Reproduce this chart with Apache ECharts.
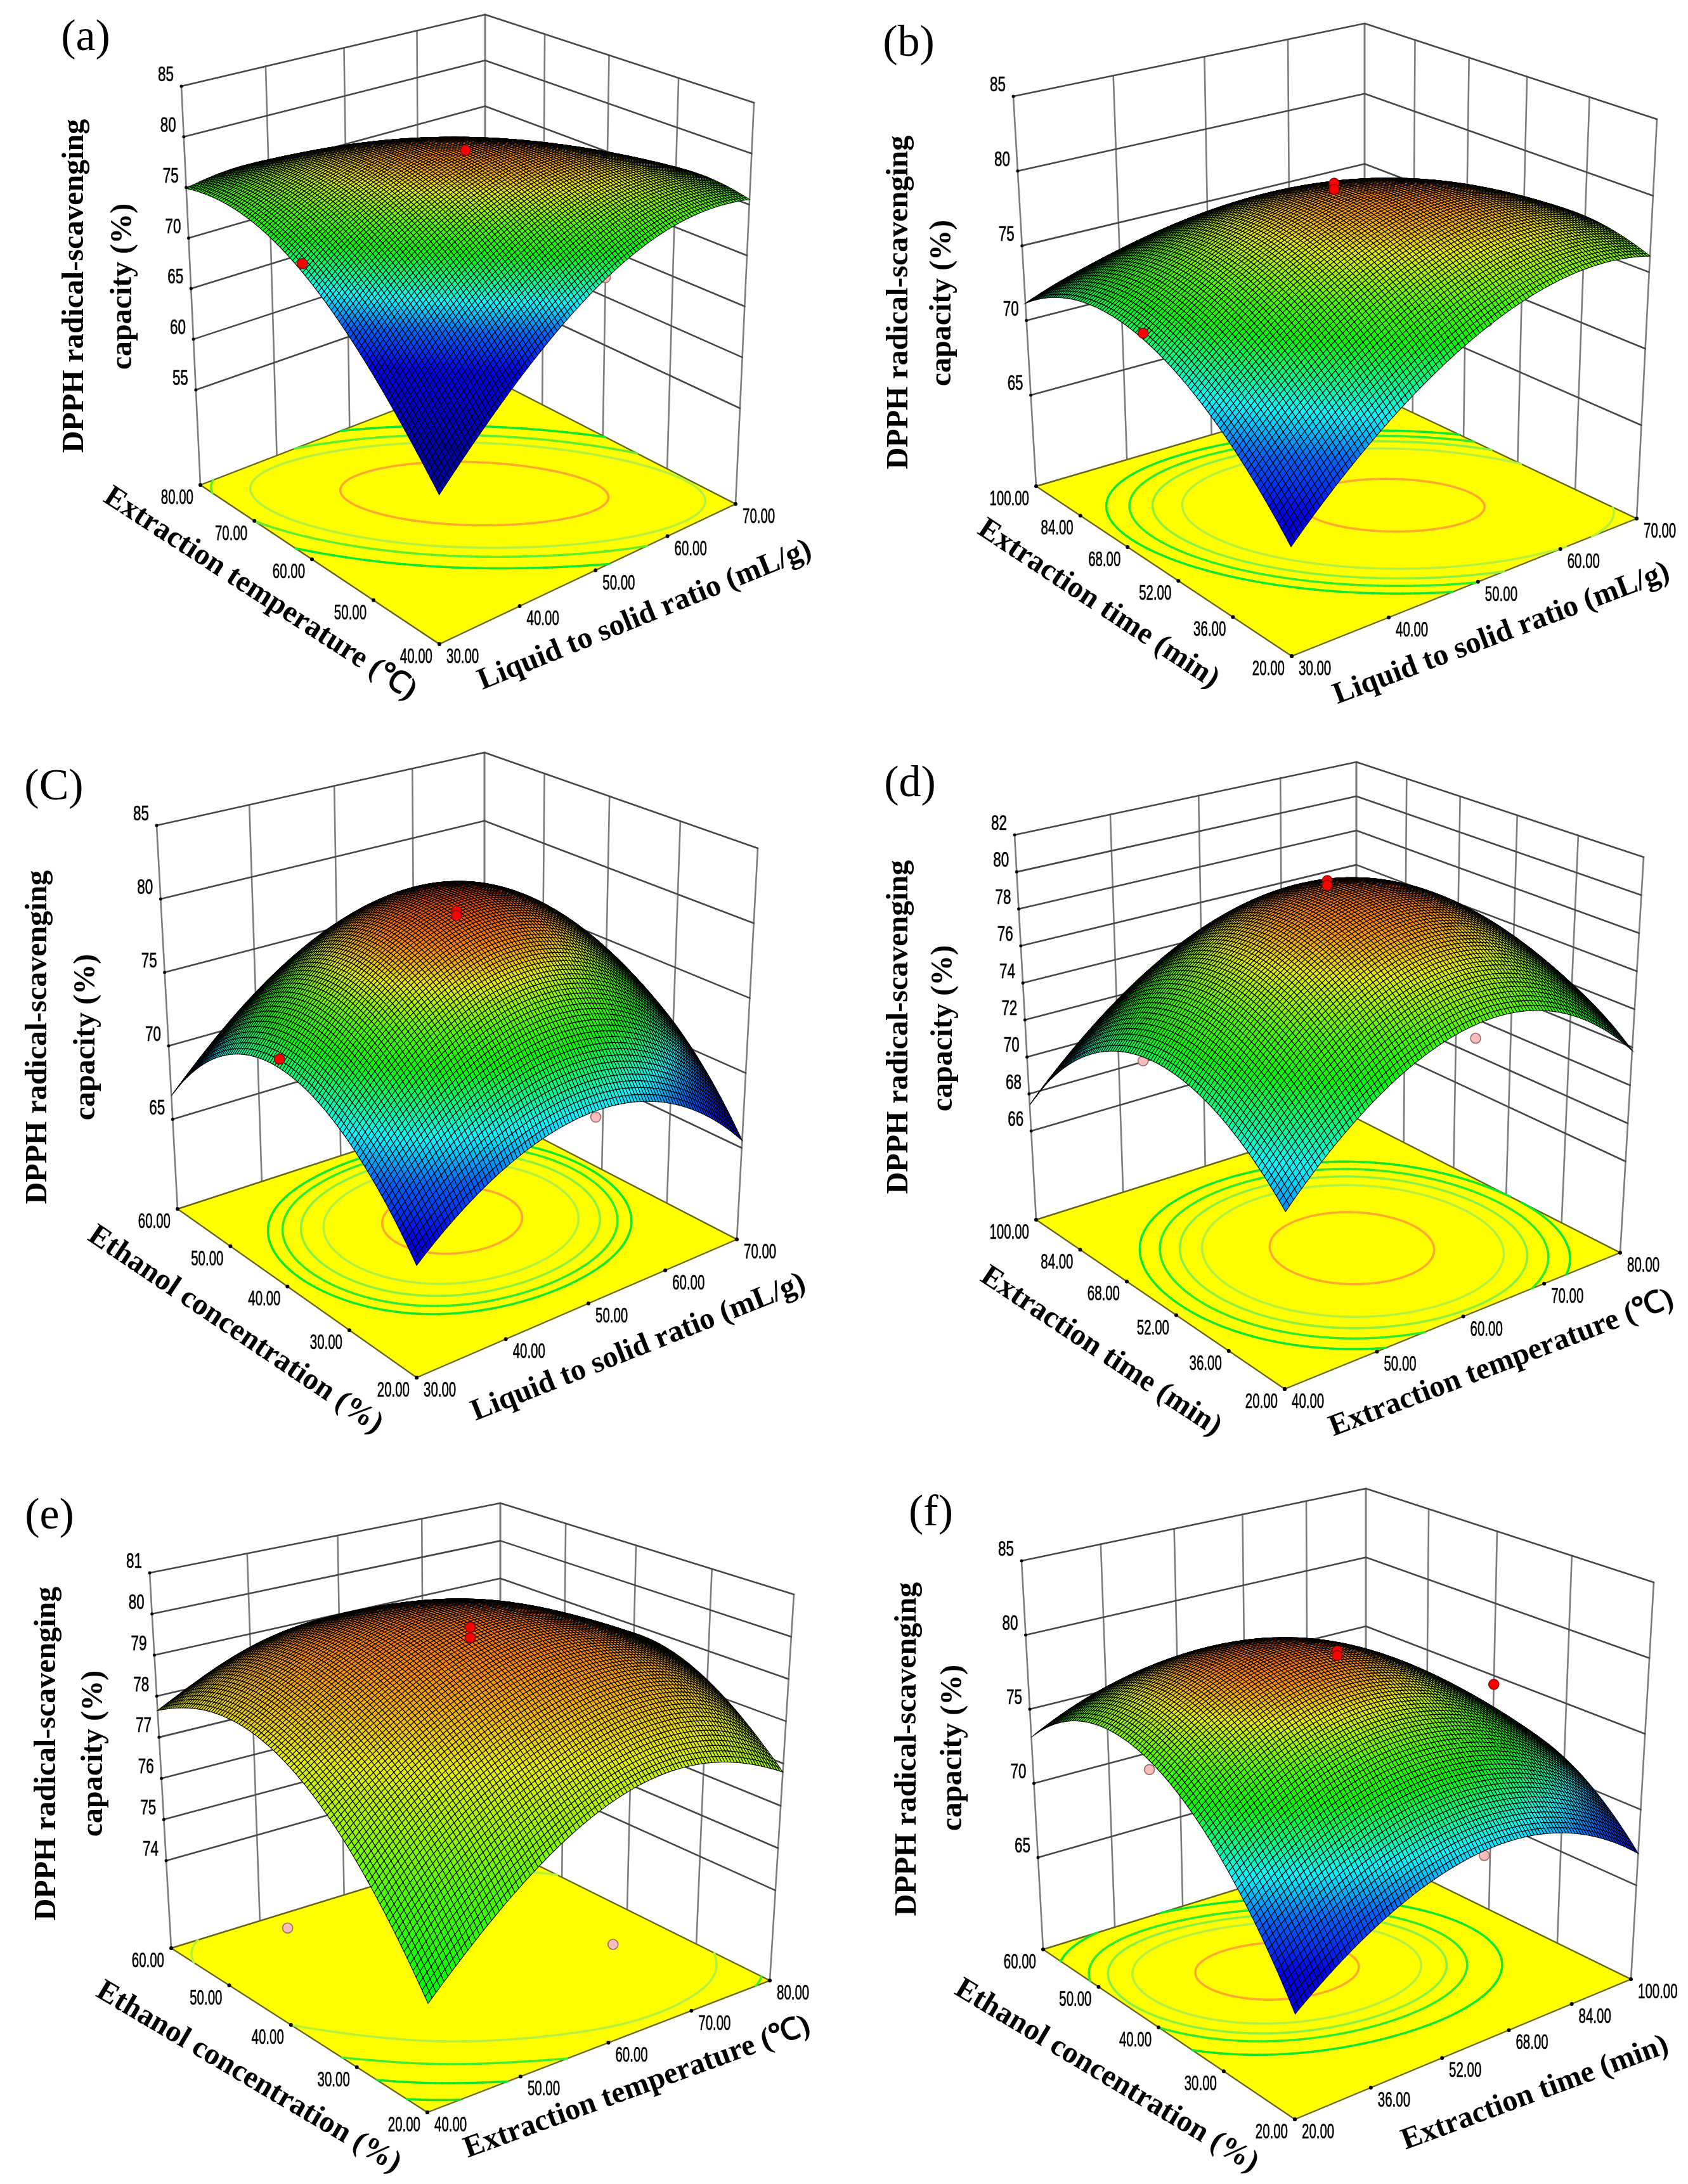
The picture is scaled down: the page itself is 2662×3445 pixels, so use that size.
<!DOCTYPE html>
<html>
<head>
<meta charset="utf-8">
<title>DPPH response surfaces</title>
<script src="https://cdn.jsdelivr.net/npm/echarts@6/dist/echarts.min.js"></script>
<style>
  html, body { margin: 0; padding: 0; background: #fff; }
  #chart { width: 2662px; height: 3445px; }
</style>
</head>
<body>
<div id="chart"></div>
<script>
// tick labels of every axis
const liquidTicks = [30, 40, 50, 60, 70];
const temperatureTicks = [40, 50, 60, 70, 80];
const timeTicks = [20, 36, 52, 68, 84, 100];
const ethanolTicks = [20, 30, 40, 50, 60];

const zTicksA = [55, 60, 65, 70, 75, 80, 85];
const zTicksB = [65, 70, 75, 80, 85];
const zTicksC = [65, 70, 75, 80, 85];
const zTicksD = [66, 68, 70, 72, 74, 76, 78, 80, 82];
const zTicksE = [74, 75, 76, 77, 78, 79, 80, 81];
const zTicksF = [65, 70, 75, 80, 85];

// surface heights read at 5 x 5 evenly spaced settings
// row = left axis from low to high, column = right axis from low to high
const surfaceA = [
  [59.0, 67.0, 72.85, 75.7, 75.5],
  [66.9, 73.99, 77.85, 78.54, 76.0],
  [72.55, 77.75, 79.6, 78.15, 73.45],
  [75.2, 78.24, 78.05, 74.59, 67.9],
  [74.9, 75.5, 73.15, 67.8, 59.4]
];
const surfaceB = [
  [65.65, 71.4, 75.05, 76.6, 76.05],
  [70.7, 75.84, 78.63, 79.04, 77.1],
  [73.3, 77.58, 79.4, 78.78, 75.7],
  [73.45, 76.59, 77.38, 75.79, 71.85],
  [71.15, 72.9, 72.55, 70.1, 65.55]
];
const surfaceC = [
  [65.9, 70.0, 71.3, 69.8, 65.5],
  [71.2, 76.6, 78.35, 76.6, 71.3],
  [73.1, 78.95, 81.0, 79.25, 73.7],
  [71.55, 77.2, 79.2, 77.7, 72.65],
  [66.6, 71.2, 73.0, 72.0, 68.2]
];
const surfaceD = [
  [69.9, 74.2, 76.0, 75.2, 71.84],
  [73.0, 77.71, 79.5, 78.31, 74.25],
  [73.6, 78.35, 80.0, 78.6, 74.15],
  [71.75, 76.11, 77.55, 76.06, 71.6],
  [67.4, 71.05, 72.1, 70.6, 66.55]
];
const surfaceE = [
  [74.25, 76.25, 77.45, 77.6, 76.8],
  [76.6, 78.3, 79.2, 79.3, 78.3],
  [78.0, 79.4, 80.1, 79.8, 78.8],
  [78.3, 79.6, 79.9, 79.4, 78.1],
  [77.65, 78.65, 78.85, 78.05, 76.45]
];
const surfaceF = [
  [65.3, 69.4, 71.1, 70.3, 67.1],
  [72.35, 76.2, 77.05, 75.3, 71.35],
  [76.0, 79.6, 79.8, 77.0, 72.2],
  [76.25, 79.0, 78.35, 75.0, 69.65],
  [73.1, 74.7, 73.3, 69.7, 63.7]
];

// design points as [right axis value, left axis value, response]
const pointsAboveA = [[50, 60, 79.5], [30, 60, 73.4]];
const pointsBelowA = [[50, 40, 73.0]];
const pointsAboveB = [[50, 60, 80.0], [50, 60, 79.6], [30, 60, 73.7]];
const pointsBelowB = [[50, 20, 75.4]];
const pointsAboveC = [[50, 40, 80.0], [50, 40, 79.7], [30, 40, 73.7]];
const pointsBelowC = [[50, 20, 70.9]];
const pointsAboveD = [[60, 60, 80.15], [60, 60, 79.9]];
const pointsBelowD = [[40, 60, 73.4], [60, 20, 75.3]];
const pointsAboveE = [[60, 40, 79.95], [60, 40, 79.7]];
const pointsBelowE = [[40, 40, 74.1], [60, 20, 74.1]];
const pointsAboveF = [[60, 40, 79.7], [60, 40, 79.4], [100, 40, 74.4]];
const pointsBelowF = [[20, 40, 75.4], [60, 20, 70.8]];

// contour levels drawn on the floor
const contoursA = [78.4, 76.3, 75.2, 73.6];
const contoursB = [79.05, 76.63, 75.75, 75, 74.2];
const contoursC = [80, 77.7, 76.5, 75.4, 74.45];
const contoursD = [79.3, 77.3, 76.4, 75.5, 74.5];
const contoursE = [78, 77, 76, 75];
const contoursF = [79.4, 77.7, 76.8, 76, 74.5];

const SERIF = '"Liberation Serif", "Times New Roman", serif';
const SANS = '"Liberation Sans", Arial, sans-serif';
const MESH = 100; // mesh cells per side, as in the design software plot
const KNOT_CELLS = 4;
const contourRamp = ['#ffa830', '#b4f040', '#8cf040', '#30ea30', '#10e830'];

// layout of each panel in page pixels
const panels = [
  {
    tag: '(a)', tagAt: [135, 61],
    F: [693, 1016], R: [1160, 795], B: [765, 592], L: [316, 765],
    Rt: [1189, 162], Bt: [765, 23], Lt: [286, 136], zFloor: 45.6,
    zTicks: zTicksA, sTicks: liquidTicks, tTicks: temperatureTicks, surface: surfaceA,
    above: pointsAboveA, below: pointsBelowA, contours: contoursA,
    contourColors: ['#ffa830', '#b4f040', '#60ee30', '#10e830'],
    zTitleAt: [[119, 451], [195, 452]],
    tTitle: 'Extraction temperature (℃)', tTitleAt: [410, 937], tAngle: 33,
    sTitle: 'Liquid to solid ratio (mL/g)', sTitleAt: [1017, 971], sAngle: 22
  },
  {
    tag: '(b)', tagAt: [1433, 70],
    F: [2037, 1035], R: [2581, 818], B: [2152, 615], L: [1634, 767],
    Rt: [2613, 188], Bt: [2152, 37], Lt: [1598, 152], zFloor: 58.9,
    zTicks: zTicksB, sTicks: liquidTicks, tTicks: timeTicks, surface: surfaceB,
    above: pointsAboveB, below: pointsBelowB, contours: contoursB,
    contourColors: contourRamp,
    zTitleAt: [[1419, 477], [1487, 478]],
    tTitle: 'Extraction time (min)', tTitleAt: [1732, 953], tAngle: 33.5,
    sTitle: 'Liquid to solid ratio (mL/g)', sTitleAt: [2368, 1000], sAngle: 20.6
  },
  {
    tag: '(C)', tagAt: [85, 1243],
    F: [657, 2173], R: [1162, 1955], B: [764, 1749], L: [280, 1907],
    Rt: [1195, 1338], Bt: [764, 1187], Lt: [247, 1302], zFloor: 58.9,
    zTicks: zTicksC, sTicks: liquidTicks, tTicks: ethanolTicks, surface: surfaceC,
    above: pointsAboveC, below: pointsBelowC, contours: contoursC,
    contourColors: contourRamp,
    zTitleAt: [[61, 1636], [137, 1636]],
    tTitle: 'Ethanol concentration (%)', tTitleAt: [371, 2098], tAngle: 34,
    sTitle: 'Liquid to solid ratio (mL/g)', sTitleAt: [1007, 2126], sAngle: 21.6
  },
  {
    tag: '(d)', tagAt: [1435, 1238],
    F: [2026, 2191], R: [2555, 1976], B: [2139, 1764], L: [1634, 1924],
    Rt: [2592, 1352], Bt: [2139, 1202], Lt: [1600, 1317], zFloor: 61.2,
    zTicks: zTicksD, sTicks: temperatureTicks, tTicks: timeTicks, surface: surfaceD,
    above: pointsAboveD, below: pointsBelowD, contours: contoursD,
    contourColors: contourRamp,
    zTitleAt: [[1419, 1620], [1489, 1622]],
    tTitle: 'Extraction time (min)', tTitleAt: [1736, 2132], tAngle: 33.6,
    sTitle: 'Extraction temperature (℃)', sTitleAt: [2368, 2151], sAngle: 20.9
  },
  {
    tag: '(e)', tagAt: [78, 2393],
    F: [674, 3332], R: [1214, 3124], B: [789, 2913], L: [270, 3073],
    Rt: [1252, 2515], Bt: [789, 2371], Lt: [236, 2481], zFloor: 71.87,
    zTicks: zTicksE, sTicks: temperatureTicks, tTicks: ethanolTicks, surface: surfaceE,
    above: pointsAboveE, below: pointsBelowE, contours: contoursE,
    contourColors: ['#b4f040', '#40ee30', '#10e830', '#10e830'],
    zTitleAt: [[75, 2766], [149, 2766]],
    tTitle: 'Ethanol concentration (%)', tTitleAt: [392, 3277], tAngle: 30.6,
    sTitle: 'Extraction temperature (℃)', sTitleAt: [1005, 3293], sAngle: 20
  },
  {
    tag: '(f)', tagAt: [1468, 2388],
    F: [2042, 3343], R: [2572, 3122], B: [2154, 2917], L: [1645, 3075],
    Rt: [2608, 2496], Bt: [2154, 2348], Lt: [1611, 2462], zFloor: 58.8,
    zTicks: zTicksF, sTicks: timeTicks, tTicks: ethanolTicks, surface: surfaceF,
    above: pointsAboveF, below: pointsBelowF, contours: contoursF,
    contourColors: contourRamp,
    zTitleAt: [[1432, 2759], [1504, 2757]],
    tTitle: 'Ethanol concentration (%)', tTitleAt: [1745, 3275], tAngle: 31,
    sTitle: 'Extraction time (min)', sTitleAt: [2421, 3302], sAngle: 20.3
  }
];

// response colour ramp of the plots
const colorStops = [
  [62, [0, 0, 170]], [67, [0, 0, 240]], [69.5, [0, 100, 255]], [71.5, [0, 255, 255]],
  [74.5, [0, 255, 0]], [76, [70, 255, 0]], [78, [230, 240, 0]], [79.5, [255, 140, 0]], [81, [230, 70, 0]]
];

function rampColor(z) {
  if (z <= colorStops[0][0]) return 'rgb(' + colorStops[0][1].join(',') + ')';
  for (let i = 1; i < colorStops.length; i++) {
    if (z <= colorStops[i][0]) {
      const a = colorStops[i - 1], b = colorStops[i];
      const k = (z - a[0]) / (b[0] - a[0]);
      return 'rgb(' + a[1].map((c, n) => Math.round(c + (b[1][n] - c) * k)).join(',') + ')';
    }
  }
  return 'rgb(' + colorStops[colorStops.length - 1][1].join(',') + ')';
}

// unit square -> image quad (p00, p10, p11, p01)
function quadMap(p00, p10, p11, p01) {
  const dx1 = p10[0] - p11[0], dx2 = p01[0] - p11[0], sx = p00[0] - p10[0] + p11[0] - p01[0];
  const dy1 = p10[1] - p11[1], dy2 = p01[1] - p11[1], sy = p00[1] - p10[1] + p11[1] - p01[1];
  const den = dx1 * dy2 - dx2 * dy1;
  const g = (sx * dy2 - dx2 * sy) / den, h = (dx1 * sy - sx * dy1) / den;
  const a = p10[0] - p00[0] + g * p10[0], b = p01[0] - p00[0] + h * p01[0];
  const d = p10[1] - p00[1] + g * p10[1], e = p01[1] - p00[1] + h * p01[1];
  return (s, t) => {
    const w = g * s + h * t + 1;
    return [(a * s + b * t + p00[0]) / w, (d * s + e * t + p00[1]) / w];
  };
}

// The mesh is only a drawing subdivision of the knots,
// like a smoothed line between its points; the data stay the 5 x 5 tables above.
function lagrange(x) {
  const nodes = [0, 0.25, 0.5, 0.75, 1];
  return nodes.map((n, i) => {
    let w = 1;
    nodes.forEach((m, j) => { if (j !== i) w *= (x - m) / (n - m); });
    return w;
  });
}

function buildMesh(surface) {
  const weights = [];
  for (let i = 0; i <= MESH; i++) weights.push(lagrange(i / MESH));
  const mesh = [];
  for (let j = 0; j <= MESH; j++) {
    const row = [];
    for (let i = 0; i <= MESH; i++) {
      let z = 0;
      for (let a = 0; a < 5; a++) for (let b = 0; b < 5; b++) z += weights[j][a] * weights[i][b] * surface[a][b];
      row.push(z);
    }
    mesh.push(row);
  }
  return mesh;
}

panels.forEach(p => {
  p.Ft = [0, 1].map(k => p.F[k] + (p.Lt[k] - p.L[k]) + (p.Rt[k] - p.R[k]) - (p.Bt[k] - p.B[k]));
  p.floorMap = quadMap(p.F, p.R, p.B, p.L);
  p.topMap = quadMap(p.Ft, p.Rt, p.Bt, p.Lt);
  p.zTop = p.zTicks[p.zTicks.length - 1];
  p.mesh = buildMesh(p.surface);
});

function project(p, s, t, z) {
  const a = p.floorMap(s, t), b = p.topMap(s, t);
  const h = (z - p.zFloor) / (p.zTop - p.zFloor);
  return [a[0] + (b[0] - a[0]) * h, a[1] + (b[1] - a[1]) * h];
}

const frac = (ticks, v) => (v - ticks[0]) / (ticks[ticks.length - 1] - ticks[0]);

function label(text, at, opt) {
  return {
    type: 'text', x: at[0], y: at[1], silent: true,
    rotation: opt.rotation || 0, scaleX: opt.scaleX || 1,
    style: {
      text: text, fill: '#000', font: opt.font, align: opt.align || 'center', verticalAlign: 'middle',
      stroke: opt.stroke ? '#000' : null, lineWidth: opt.stroke || 0
    }
  };
}

function line(a, b, color, width) {
  return {
    type: 'line', silent: true,
    shape: { x1: a[0], y1: a[1], x2: b[0], y2: b[1] },
    style: { stroke: color, lineWidth: width, lineCap: 'round' }
  };
}

function dot(at, r, fill, stroke, width) {
  return {
    type: 'circle', silent: true,
    shape: { cx: at[0], cy: at[1], r: r },
    style: { fill: fill, stroke: stroke, lineWidth: width }
  };
}

// walls, floor, contours and hidden points, all under the surface
function drawBackdrop(p, api) {
  const pt = (s, t, z) => api.coord(project(p, s, t, z));
  const kids = [];
  p.sTicks.forEach(v => {
    const s = frac(p.sTicks, v);
    kids.push(line(pt(s, 1, p.zFloor), pt(s, 1, p.zTop), '#7c7c7c', 2.6));
  });
  p.tTicks.forEach(v => {
    const t = frac(p.tTicks, v);
    kids.push(line(pt(1, t, p.zFloor), pt(1, t, p.zTop), '#7c7c7c', 2.6));
  });
  p.zTicks.forEach(z => {
    kids.push(line(pt(0, 1, z), pt(1, 1, z), '#484848', 2.6));
    kids.push(line(pt(1, 1, z), pt(1, 0, z), '#484848', 2.6));
    kids.push(dot(pt(0, 1, z), 2.5, '#000', '#000', 0));
  });

  const floorPts = [[0, 0], [1, 0], [1, 1], [0, 1]].map(c => pt(c[0], c[1], p.zFloor));
  kids.push({
    type: 'polygon', silent: true, shape: { points: floorPts },
    style: { fill: '#ffff00', stroke: '#66661a', lineWidth: 2.4 }
  });

  // marching squares over the floor
  p.contours.forEach((level, n) => {
    const color = p.contourColors[n];
    const edge = (i0, j0, z0, i1, j1, z1) => {
      const k = (level - z0) / (z1 - z0);
      return pt((i0 + (i1 - i0) * k) / MESH, (j0 + (j1 - j0) * k) / MESH, p.zFloor);
    };
    for (let j = 0; j < MESH; j++) {
      for (let i = 0; i < MESH; i++) {
        const a = p.mesh[j][i], b = p.mesh[j][i + 1], c = p.mesh[j + 1][i + 1], d = p.mesh[j + 1][i];
        const hits = [];
        if ((a < level) !== (b < level)) hits.push(edge(i, j, a, i + 1, j, b));
        if ((b < level) !== (c < level)) hits.push(edge(i + 1, j, b, i + 1, j + 1, c));
        if ((c < level) !== (d < level)) hits.push(edge(i + 1, j + 1, c, i, j + 1, d));
        if ((d < level) !== (a < level)) hits.push(edge(i, j + 1, d, i, j, a));
        if (hits.length >= 2) kids.push(line(hits[0], hits[1], color, 3.4));
        if (hits.length === 4) kids.push(line(hits[2], hits[3], color, 3.4));
      }
    }
  });

  p.sTicks.forEach(v => kids.push(dot(pt(frac(p.sTicks, v), 0, p.zFloor), 3, '#000', '#000', 0)));
  p.tTicks.forEach(v => kids.push(dot(pt(0, frac(p.tTicks, v), p.zFloor), 3, '#000', '#000', 0)));

  p.below.forEach(d => {
    kids.push(dot(pt(frac(p.sTicks, d[0]), frac(p.tTicks, d[1]), d[2]), 8, '#f9bcbc', '#9c6a6a', 1.6));
  });
  return { type: 'group', children: kids };
}

// one block of the mesh for every knot cell, far cells first
function drawSurfaceBlock(p, api, ci, cj) {
  const per = MESH / KNOT_CELLS;
  const kids = [];
  const vertex = (i, j) => api.coord(project(p, i / MESH, j / MESH, p.mesh[j][i]));
  for (let j = (cj + 1) * per - 1; j >= cj * per; j--) {
    for (let i = (ci + 1) * per - 1; i >= ci * per; i--) {
      const z = (p.mesh[j][i] + p.mesh[j][i + 1] + p.mesh[j + 1][i] + p.mesh[j + 1][i + 1]) / 4;
      kids.push({
        type: 'polygon', silent: true,
        shape: { points: [vertex(i, j), vertex(i + 1, j), vertex(i + 1, j + 1), vertex(i, j + 1)] },
        style: { fill: rampColor(z), stroke: '#000', lineWidth: 1.1 }
      });
    }
  }
  return { type: 'group', children: kids };
}

function drawOverlay(p, api) {
  const pt = (s, t, z) => api.coord(project(p, s, t, z));
  const kids = [];
  p.above.forEach(d => {
    kids.push(dot(pt(frac(p.sTicks, d[0]), frac(p.tTicks, d[1]), d[2]), 8, '#ff0000', '#7a1010', 1.6));
  });
  const tickFont = '33px ' + SANS;
  p.zTicks.forEach(z => {
    const at = pt(0, 1, z);
    kids.push(label(String(z), [at[0] - 12, at[1] - 17], { font: tickFont, align: 'right', scaleX: 0.68, stroke: 0.7 }));
  });
  p.sTicks.forEach(v => {
    const at = pt(frac(p.sTicks, v), 0, p.zFloor);
    kids.push(label(v.toFixed(2), [at[0] + 11, at[1] + 21], { font: tickFont, align: 'left', scaleX: 0.62, stroke: 0.7 }));
  });
  p.tTicks.forEach(v => {
    const at = pt(0, frac(p.tTicks, v), p.zFloor);
    kids.push(label(v.toFixed(2), [at[0] - 11, at[1] + 21], { font: tickFont, align: 'right', scaleX: 0.62, stroke: 0.7 }));
  });
  const boldFont = 'bold 48px ' + SERIF;
  kids.push(label('DPPH radical-scavenging', api.coord(p.zTitleAt[0]), { font: boldFont, rotation: Math.PI / 2 }));
  kids.push(label('capacity (%)', api.coord(p.zTitleAt[1]), { font: boldFont, rotation: Math.PI / 2 }));
  kids.push(label(p.tTitle, api.coord(p.tTitleAt), { font: boldFont, rotation: -p.tAngle * Math.PI / 180 }));
  kids.push(label(p.sTitle, api.coord(p.sTitleAt), { font: boldFont, rotation: p.sAngle * Math.PI / 180 }));
  kids.push(label(p.tag, api.coord(p.tagAt), { font: '70px ' + SERIF }));
  return { type: 'group', children: kids };
}

const series = [];
panels.forEach(p => {
  const base = { type: 'custom', coordinateSystem: 'cartesian2d', silent: true, animation: false, clip: false };
  series.push(Object.assign({}, base, {
    z: 2, data: [[0, 0]],
    renderItem: (params, api) => drawBackdrop(p, api)
  }));
  const blocks = [];
  for (let cj = KNOT_CELLS - 1; cj >= 0; cj--) for (let ci = KNOT_CELLS - 1; ci >= 0; ci--) blocks.push([ci, cj]);
  series.push(Object.assign({}, base, {
    z: 3, data: blocks,
    renderItem: (params, api) => drawSurfaceBlock(p, api, api.value(0), api.value(1))
  }));
  series.push(Object.assign({}, base, {
    z: 4, data: [[0, 0]],
    renderItem: (params, api) => drawOverlay(p, api)
  }));
});

const chart = echarts.init(document.getElementById('chart'), null, { renderer: 'canvas' });
chart.setOption({
  animation: false,
  backgroundColor: '#fff',
  tooltip: { show: false },
  grid: { left: 0, right: 0, top: 0, bottom: 0 },
  xAxis: { type: 'value', min: 0, max: 2662, show: false },
  yAxis: { type: 'value', min: 0, max: 3445, inverse: true, show: false },
  series: series
});
</script>
</body>
</html>
